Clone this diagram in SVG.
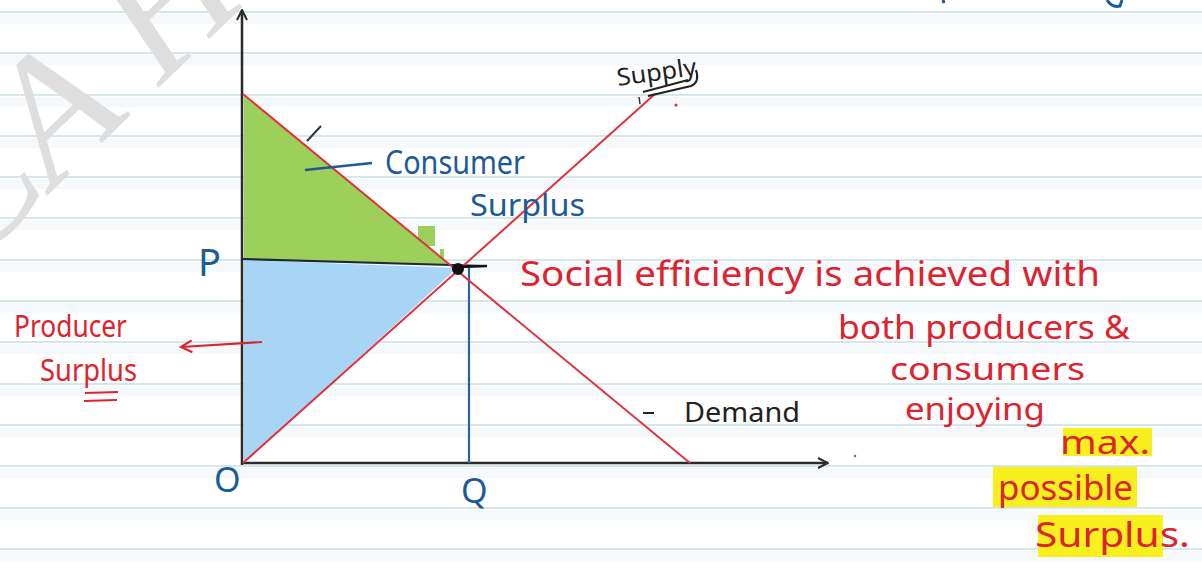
<svg xmlns="http://www.w3.org/2000/svg" width="1202" height="580" viewBox="0 0 1202 580">
<style>
.rule{stroke:#d6e7ec;stroke-width:2}
.band{fill:#f6f9fb}
.hw{font-family:"Noto Sans","Liberation Sans",sans-serif}
.blue{fill:#1d5a96}
.red{fill:#dc2430}
.blk{fill:#222}
.curve{stroke:#dd3440;stroke-width:2;fill:none}
.axis{stroke:#2b2b2b;stroke-width:2.5;fill:none}
.hl{fill:#f7f01e}
</style>
<defs>
<marker id="open" viewBox="0 0 12 12" refX="11" refY="6" markerWidth="12" markerHeight="12" markerUnits="userSpaceOnUse" orient="auto">
<path d="M1,1 L11,6 L1,11" fill="none" stroke="#2b2b2b" stroke-width="2"/>
</marker>
<marker id="openR" viewBox="0 0 14 14" refX="12" refY="7" markerWidth="14" markerHeight="14" markerUnits="userSpaceOnUse" orient="auto">
<path d="M1,1 L12,7 L1,13" fill="none" stroke="#dc2430" stroke-width="2.2"/>
</marker>
</defs>
<rect width="1202" height="580" fill="#ffffff"/>
<g id="paper">
<rect class="band" x="0" y="14" width="1202" height="10"/>
<rect class="band" x="0" y="55" width="1202" height="10"/>
<rect class="band" x="0" y="97" width="1202" height="10"/>
<rect class="band" x="0" y="138" width="1202" height="10"/>
<rect class="band" x="0" y="179" width="1202" height="10"/>
<rect class="band" x="0" y="220" width="1202" height="10"/>
<rect class="band" x="0" y="262" width="1202" height="10"/>
<rect class="band" x="0" y="303" width="1202" height="10"/>
<rect class="band" x="0" y="344" width="1202" height="10"/>
<rect class="band" x="0" y="386" width="1202" height="10"/>
<rect class="band" x="0" y="427" width="1202" height="10"/>
<rect class="band" x="0" y="468" width="1202" height="10"/>
<rect class="band" x="0" y="510" width="1202" height="10"/>
<rect class="band" x="0" y="551" width="1202" height="10"/>
<line class="rule" x1="0" y1="12" x2="1202" y2="12"/>
<line class="rule" x1="0" y1="53" x2="1202" y2="53"/>
<line class="rule" x1="0" y1="95" x2="1202" y2="95"/>
<line class="rule" x1="0" y1="136" x2="1202" y2="136"/>
<line class="rule" x1="0" y1="177" x2="1202" y2="177"/>
<line class="rule" x1="0" y1="218" x2="1202" y2="218"/>
<line class="rule" x1="0" y1="260" x2="1202" y2="260"/>
<line class="rule" x1="0" y1="301" x2="1202" y2="301"/>
<line class="rule" x1="0" y1="342" x2="1202" y2="342"/>
<line class="rule" x1="0" y1="384" x2="1202" y2="384"/>
<line class="rule" x1="0" y1="425" x2="1202" y2="425"/>
<line class="rule" x1="0" y1="466" x2="1202" y2="466"/>
<line class="rule" x1="0" y1="508" x2="1202" y2="508"/>
<line class="rule" x1="0" y1="549" x2="1202" y2="549"/>
</g>
<g id="watermark">
<text x="-30" y="270" transform="rotate(-44 -30 270)" font-family="Liberation Serif, serif" font-style="italic" font-size="175" fill="#dedede">CA H</text>
</g>
<g id="consumer-surplus-area">
<polygon points="244,95 448,264 244,259" fill="#9dd05b"/>
<rect x="418" y="226" width="17" height="20" fill="#9dd05b"/>
<rect x="440" y="249" width="4" height="13" fill="#9dd05b"/>
</g>
<g id="producer-surplus-area">
<polygon points="244,260 457,268 244,463" fill="#a8d4f6"/>
</g>
<g id="connectors">
<line class="axis" x1="242" y1="465" x2="242" y2="10" marker-end="url(#open)"/>
<line class="axis" x1="241" y1="463" x2="828" y2="463" marker-end="url(#open)"/>
<line x1="243" y1="259" x2="487" y2="266" stroke="#1c2a3a" stroke-width="2.2"/>
<line x1="469" y1="268" x2="469" y2="463" stroke="#2a619e" stroke-width="2.2"/>
<line class="curve" x1="243" y1="94" x2="690" y2="463"/>
<line class="curve" x1="243" y1="463" x2="655" y2="94"/>
<line x1="305" y1="170" x2="372" y2="163" stroke="#1d5a96" stroke-width="2.5"/>
<line x1="307" y1="141" x2="321" y2="126" stroke="#333" stroke-width="2"/>
<line x1="639" y1="97" x2="640" y2="104" stroke="#333" stroke-width="1.5"/>
<line x1="262" y1="342" x2="181" y2="347" stroke="#dc2430" stroke-width="2.2" marker-end="url(#openR)"/>
<line x1="85" y1="393" x2="118" y2="392" stroke="#dc2430" stroke-width="2.2"/>
<line x1="84" y1="401" x2="117" y2="400" stroke="#dc2430" stroke-width="2.2"/>
<line x1="643" y1="413" x2="654" y2="413" stroke="#222" stroke-width="2"/>
<path d="M643,92 L688,80 M648,96 L691,86 Q700,82 696,70" stroke="#222" stroke-width="2" fill="none"/>
<circle cx="458" cy="269" r="6" fill="#111"/>
<line x1="458" y1="267" x2="487" y2="266" stroke="#111" stroke-width="2.5"/>
<circle cx="676" cy="105" r="1.5" fill="#dc2430"/>
<circle cx="855" cy="456" r="1.3" fill="#777"/>
<path d="M1107,0 Q1112,8 1120,6 L1122,0" stroke="#1d5a96" stroke-width="3" fill="none"/>
<path d="M943,0 L944,3" stroke="#1d5a96" stroke-width="3" fill="none"/>
</g>
<g id="label-consumer-surplus">
<text class="hw blue" x="385" y="174" font-size="32" textLength="140" lengthAdjust="spacingAndGlyphs">Consumer</text>
<text class="hw blue" x="470" y="216" font-size="30" textLength="115" lengthAdjust="spacingAndGlyphs">Surplus</text>
</g>
<g id="label-supply">
<text class="hw blk" x="618" y="86" font-size="24" transform="rotate(-8 618 86)" textLength="80" lengthAdjust="spacingAndGlyphs">Supply</text>
</g>
<g id="label-demand">
<text class="hw blk" x="684" y="422" font-size="28" textLength="116" lengthAdjust="spacingAndGlyphs">Demand</text>
</g>
<g id="label-axes">
<text class="hw blue" x="198" y="276" font-size="38">P</text>
<text class="hw blue" x="214" y="492" font-size="34">O</text>
<text class="hw blue" x="461" y="503" font-size="34">Q</text>
</g>
<g id="label-producer-surplus">
<text class="hw red" x="14" y="337" font-size="30" textLength="113" lengthAdjust="spacingAndGlyphs">Producer</text>
<text class="hw red" x="40" y="381" font-size="30" textLength="97" lengthAdjust="spacingAndGlyphs">Surplus</text>
</g>
<g id="note">
<rect class="hl" x="1063" y="428" width="89" height="28"/>
<rect class="hl" x="993" y="467" width="144" height="40"/>
<rect class="hl" x="1038" y="515" width="125" height="42"/>
<text class="hw red" x="520" y="286" font-size="34" textLength="580" lengthAdjust="spacingAndGlyphs">Social efficiency is achieved with</text>
<text class="hw red" x="838" y="339" font-size="32" textLength="292" lengthAdjust="spacingAndGlyphs">both producers &amp;</text>
<text class="hw red" x="890" y="380" font-size="30" textLength="195" lengthAdjust="spacingAndGlyphs">consumers</text>
<text class="hw red" x="905" y="420" font-size="30" textLength="140" lengthAdjust="spacingAndGlyphs">enjoying</text>
<text class="hw red" x="1060" y="454" font-size="32" textLength="90" lengthAdjust="spacingAndGlyphs">max.</text>
<text class="hw red" x="998" y="500" font-size="34" textLength="135" lengthAdjust="spacingAndGlyphs">possible</text>
<text class="hw red" x="1035" y="547" font-size="34" textLength="155" lengthAdjust="spacingAndGlyphs">Surplus.</text>
</g>
</svg>
